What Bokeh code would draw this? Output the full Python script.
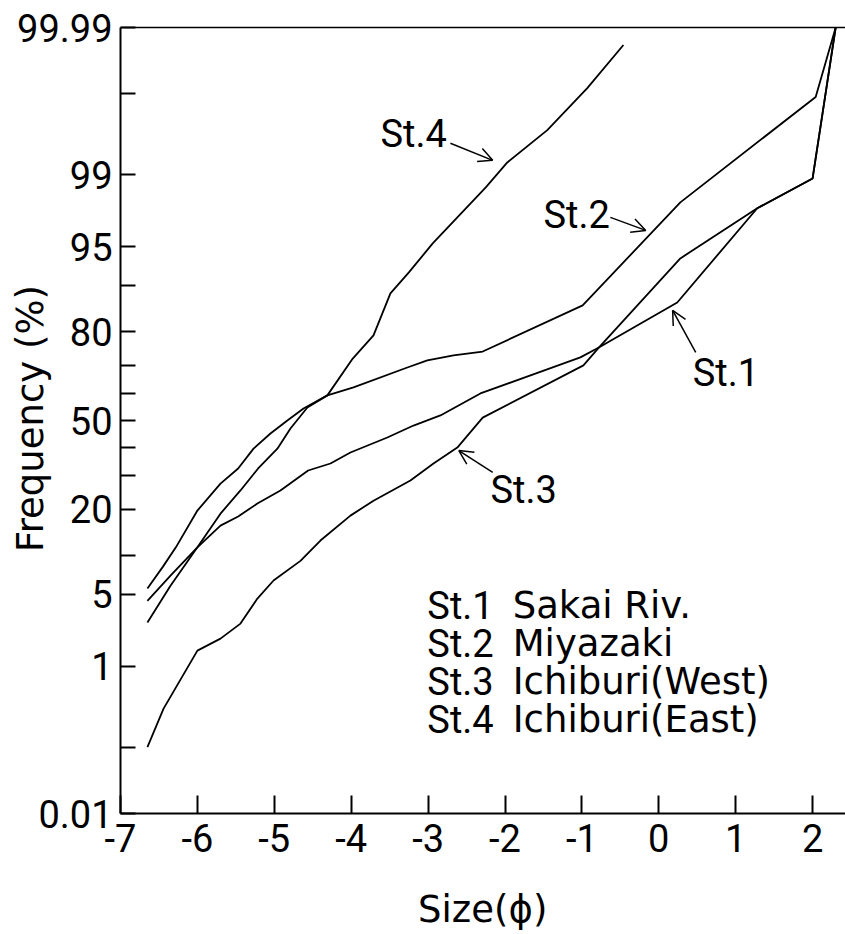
import math
from statistics import NormalDist

from bokeh.plotting import figure
from bokeh.models import Range1d, FixedTicker, LinearAxis, Label, Arrow, OpenHead
from bokeh.embed import file_html
from bokeh.resources import INLINE

# ---- cumulative grain-size curves: size (phi) vs. cumulative frequency (%) ----
st1_phi = [-6.65, -6.35, -6.0, -5.7, -5.47, -5.22, -4.92, -4.56, -4.27, -4.01,
           -3.53, -3.19, -2.84, -2.32, -1.02, -0.78, 0.24, 1.28, 2.0, 2.3]
st1_pct = [4.4, 7.1, 11.5, 16.0, 18.2, 21.6, 25.4, 31.8, 34.2, 38.1,
           43.6, 48.1, 51.9, 60.1, 72.5, 75.5, 86.8, 97.77, 98.9, 99.99]

st2_phi = [-6.65, -6.45, -6.28, -6.0, -5.7, -5.47, -5.27, -5.05, -4.83, -4.62,
           -4.31, -3.97, -3.27, -3.01, -2.67, -2.29, -0.99, 0.28, 2.04, 2.3]
st2_pct = [5.6, 8.3, 11.5, 19.7, 27.5, 32.5, 39.5, 45.1, 50.0, 54.5,
           59.4, 62.3, 69.2, 71.5, 73.1, 74.3, 86.2, 98.05, 99.89, 99.99]

st3_phi = [-6.65, -6.44, -6.0, -5.7, -5.44, -5.22, -5.01, -4.66, -4.4, -4.01,
           -3.71, -3.23, -2.93, -2.62, -2.29, -0.98, -0.78, 0.28, 1.28, 2.0, 2.3]
st3_pct = [0.1, 0.32, 1.47, 1.95, 2.73, 4.6, 6.5, 9.2, 12.8, 18.4,
           22.4, 28.5, 34.2, 39.9, 51.1, 69.9, 75.5, 93.75, 97.77, 98.9, 99.99]

st4_phi = [-6.65, -6.35, -6.0, -5.7, -5.44, -5.21, -4.96, -4.79, -4.57, -4.31,
           -3.98, -3.71, -3.49, -3.25, -2.94, -2.25, -1.97, -1.45, -0.93, -0.46]
st4_pct = [2.8, 5.9, 11.5, 18.9, 25.4, 32.5, 39.5, 47.0, 54.9, 59.4,
           72.1, 78.96, 88.55, 91.95, 95.31, 98.63, 99.27, 99.70, 99.917, 99.981]

station_ids = ["St.1", "St.2", "St.3", "St.4"]
station_names = ["Sakai Riv.", "Miyazaki", "Ichiburi(West)", "Ichiburi(East)"]

# probability-axis ticks (percent) and their labels ("" = unlabelled tick)
y_tick_pct = [0.01, 0.1, 1, 5, 10, 20, 30, 40, 50, 60, 70, 80, 90, 95, 99, 99.9, 99.99]
y_tick_lab = ["0.01", "", "1", "5", "", "20", "", "", "50", "", "", "80", "", "95", "99", "", "99.99"]

x_ticks = [-7, -6, -5, -4, -3, -2, -1, 0, 1, 2]
x_tick_lab = ["-7", "-6", "-5", "-4", "-3", "-2", "-1", "0", "1", "2"]

_nd = NormalDist()


def probit(pct):
    """Normal-probability ordinate of a cumulative percentage."""
    return _nd.inv_cdf(pct / 100.0)


W, H = 845, 934
LEFT, TOP, BOTTOM = 120, 27, 813           # plotting box on the page (px)
PHI_MIN, PHI_MAX = -7.0, 2.4278            # phi at LEFT and at the right page edge
Z_LO, Z_HI = probit(0.01), probit(99.99)   # probability ordinate at BOTTOM and TOP

# the frame covers the whole page so titles and keys can sit in the margins;
# the axes are pinned to the plotting box with fixed_location
px_per_phi = (W - LEFT) / (PHI_MAX - PHI_MIN)
px_per_z = (BOTTOM - TOP) / (Z_HI - Z_LO)
x_start = PHI_MIN - LEFT / px_per_phi
y_end = Z_HI + TOP / px_per_z
y_start = Z_LO - (H - BOTTOM) / px_per_z

p = figure(width=W, height=H,
           x_range=Range1d(x_start, PHI_MAX), y_range=Range1d(y_start, y_end),
           x_axis_type=None, y_axis_type=None,
           output_backend="svg", toolbar_location=None, min_border=0)
p.outline_line_color = None
p.background_fill_color = "white"
p.border_fill_color = "white"

TICK_FONT = "Roboto"
TEXT_FONT = "DejaVu Sans"
EPS = 1e-9

# left probability axis
yt = [probit(v) for v in y_tick_pct]
yax = LinearAxis(ticker=FixedTicker(ticks=yt),
                 major_label_overrides={t: lab for t, lab in zip(yt, y_tick_lab)},
                 fixed_location=PHI_MIN, bounds=(Z_LO - EPS, Z_HI + EPS))
yax.major_tick_in = 15
yax.major_tick_out = 0
yax.minor_tick_line_color = None
yax.axis_line_width = 2
yax.major_tick_line_width = 2
yax.major_label_text_font = TICK_FONT
yax.major_label_text_font_size = "38px"
yax.major_label_text_color = "black"
yax.major_label_standoff = 8
p.add_layout(yax, "left")

# bottom size axis
xax = LinearAxis(ticker=FixedTicker(ticks=x_ticks),
                 major_label_overrides={t: lab for t, lab in zip(x_ticks, x_tick_lab)},
                 fixed_location=Z_LO, bounds=(PHI_MIN - EPS, PHI_MAX))
xax.major_tick_in = 18
xax.major_tick_out = 0
xax.minor_tick_line_color = None
xax.axis_line_width = 2
xax.major_tick_line_width = 2
xax.major_label_text_font = TICK_FONT
xax.major_label_text_font_size = "38px"
xax.major_label_text_color = "black"
xax.major_label_standoff = 10
p.add_layout(xax, "below")

# plain frame line along the top
tax = LinearAxis(ticker=FixedTicker(ticks=[]), fixed_location=Z_HI, bounds=(PHI_MIN, PHI_MAX))
tax.major_label_text_font_size = "0px"
tax.major_tick_line_color = None
tax.minor_tick_line_color = None
tax.axis_line_width = 1.6
p.add_layout(tax, "above")

# curves
for xs, ps in [(st1_phi, st1_pct), (st2_phi, st2_pct), (st3_phi, st3_pct), (st4_phi, st4_pct)]:
    p.line(xs, [probit(v) for v in ps], line_color="black", line_width=1.8)

# station call-outs with arrows: (text, label anchor, arrow tail, arrow tip) in (phi, z)
callouts = [
    ("St.4", (-3.62, 2.707), (-2.71, 2.623), (-2.16, 2.462)),
    ("St.2", (-1.50, 1.949), (-0.63, 1.922), (-0.17, 1.799)),
    ("St.1", (0.44, 0.454), (0.48, 0.644), (0.18, 1.042)),
    ("St.3", (-2.19, -0.653), (-2.16, -0.492), (-2.60, -0.284)),
]
for txt, (lx, lz), (ax0, az0), (ax1, az1) in callouts:
    p.add_layout(Label(x=lx, y=lz, text=txt, text_font=TICK_FONT, text_font_size="38px",
                       text_color="black", text_baseline="alphabetic"))
    p.add_layout(Arrow(x_start=ax0, y_start=az0, x_end=ax1, y_end=az1,
                       line_width=1.5, line_color="black",
                       end=OpenHead(size=14, line_width=1.5, line_color="black")))

# station key
for i, (sid, name) in enumerate(zip(station_ids, station_names)):
    z = -1.751 - 0.3596 * i
    p.add_layout(Label(x=-3.01, y=z, text=sid, text_font=TICK_FONT, text_font_size="38px",
                       text_color="black", text_baseline="alphabetic"))
    p.add_layout(Label(x=-1.90, y=z, text=name, text_font=TEXT_FONT, text_font_size="37px",
                       text_color="black", text_baseline="alphabetic"))

# axis titles
p.add_layout(Label(x=-8.17, y=0.019, text="Frequency (%)", angle=math.pi / 2,
                   text_font=TEXT_FONT, text_font_size="37px", text_color="black",
                   text_align="center", text_baseline="middle"))
p.add_layout(Label(x=-2.29, y=-4.628, text="Size(\u03d5)",
                   text_font=TEXT_FONT, text_font_size="37px", text_color="black",
                   text_align="center", text_baseline="alphabetic"))

open("out.html", "w").write(file_html(p, INLINE))
